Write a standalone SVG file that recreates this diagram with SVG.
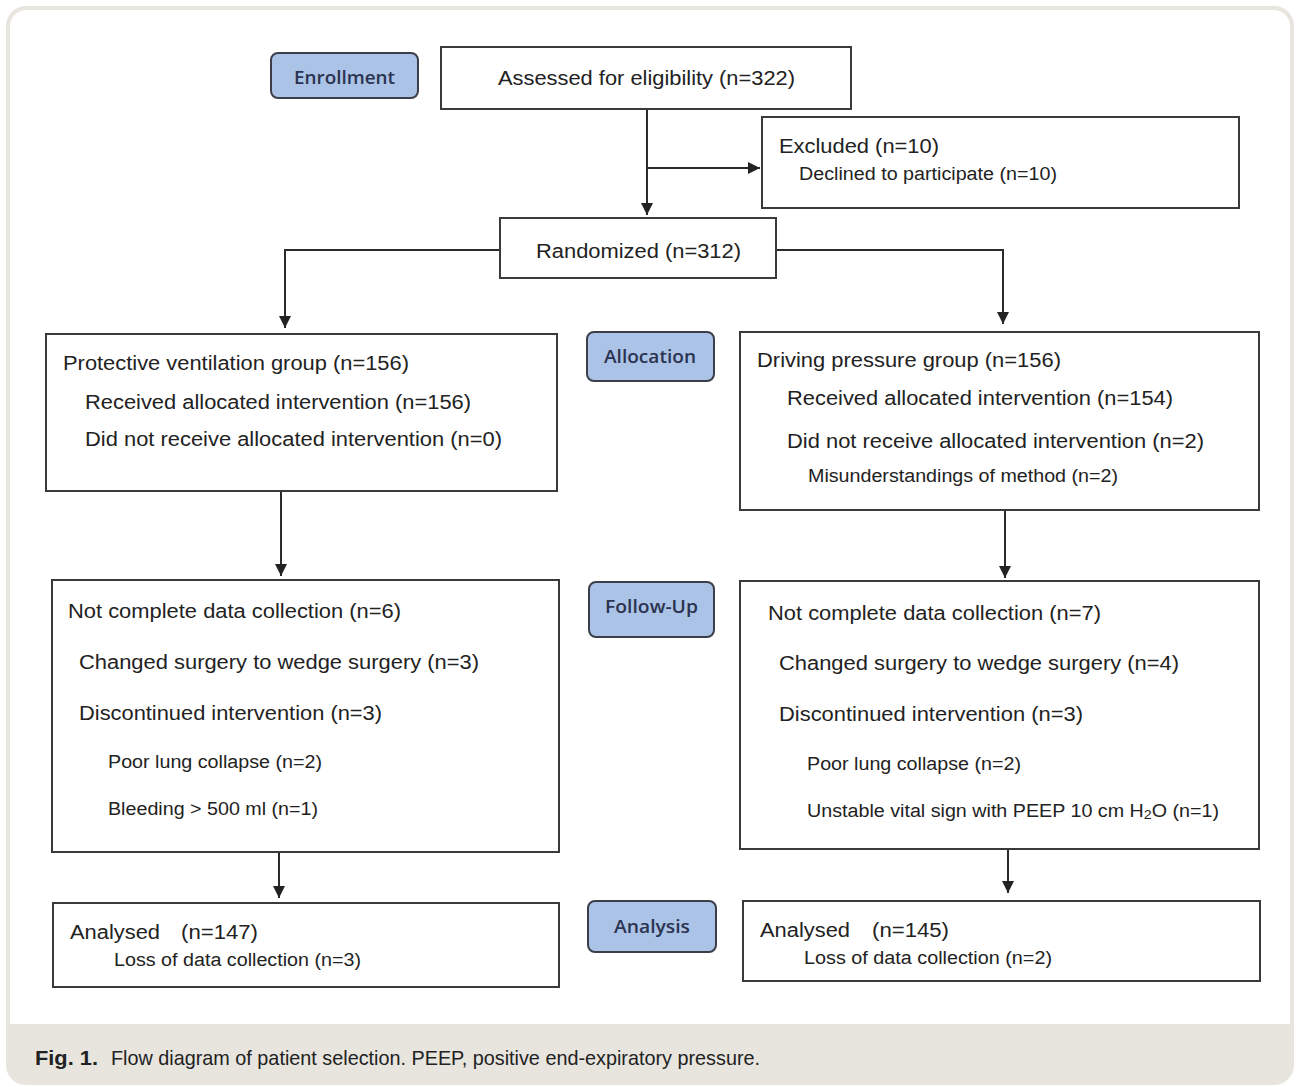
<svg xmlns="http://www.w3.org/2000/svg" width="1298" height="1087" viewBox="0 0 1298 1087">
<defs>
<marker id="arr" viewBox="0 0 10 10" refX="10" refY="5" markerWidth="12" markerHeight="12" markerUnits="userSpaceOnUse" orient="auto">
<path d="M0,0 L10,5 L0,10 z" fill="#222"/>
</marker>
<clipPath id="frame"><rect x="8" y="8" width="1284" height="1075" rx="18"/></clipPath>
</defs>
<style>
.box{fill:#fff;stroke:#3a3a3a;stroke-width:2}
.lbl{fill:#aac3e6;stroke:#3c3f4a;stroke-width:2}
.lt{font-family:"Open Sans","Noto Sans",sans-serif;font-size:18px;font-weight:600;fill:#2b3350}
.t{font-family:"Liberation Sans",Arial,sans-serif;font-size:20px;fill:#222}
.s{font-family:"Liberation Sans",Arial,sans-serif;font-size:18px;fill:#222}
.c{fill:none;stroke:#2a2a2a;stroke-width:2}
.cap{font-family:"Liberation Sans",Arial,sans-serif;font-size:21px;fill:#222}
</style>
<rect width="1298" height="1087" fill="#fff"/>
<g clip-path="url(#frame)">
<rect x="8" y="8" width="1284" height="1075" fill="#fff"/>
<rect x="8" y="1024" width="1284" height="60" fill="#e8e5df"/>
</g>
<rect x="8" y="8" width="1284" height="1075" rx="18" fill="none" stroke="#e8e5df" stroke-width="4"/>

<g id="connectors">
<line class="c" x1="647" y1="109" x2="647" y2="215" marker-end="url(#arr)"/>
<line class="c" x1="647" y1="168" x2="760" y2="168" marker-end="url(#arr)"/>
<polyline class="c" points="500,250 285,250 285,328" marker-end="url(#arr)"/>
<polyline class="c" points="776,250 1003,250 1003,324" marker-end="url(#arr)"/>
<line class="c" x1="281" y1="491" x2="281" y2="576" marker-end="url(#arr)"/>
<line class="c" x1="1005" y1="510" x2="1005" y2="578" marker-end="url(#arr)"/>
<line class="c" x1="279" y1="852" x2="279" y2="898" marker-end="url(#arr)"/>
<line class="c" x1="1008" y1="849" x2="1008" y2="893" marker-end="url(#arr)"/>
</g>

<g id="enrollment"><rect class="lbl" x="271" y="53" width="147" height="45" rx="7"/><text class="lt" x="294" y="84" textLength="101" lengthAdjust="spacingAndGlyphs">Enrollment</text></g>
<g id="assessed"><rect class="box" x="441" y="47" width="410" height="62"/><text class="t" x="498" y="85" textLength="297" lengthAdjust="spacingAndGlyphs">Assessed for eligibility (n=322)</text></g>
<g id="excluded"><rect class="box" x="762" y="117" width="477" height="91"/>
<text class="t" x="779" y="153" textLength="160" lengthAdjust="spacingAndGlyphs">Excluded (n=10)</text>
<text class="s" x="799" y="180" textLength="258" lengthAdjust="spacingAndGlyphs">Declined to participate (n=10)</text></g>
<g id="randomized"><rect class="box" x="500" y="218" width="276" height="60"/><text class="t" x="536" y="258" textLength="205" lengthAdjust="spacingAndGlyphs">Randomized (n=312)</text></g>

<g id="allocation"><rect class="lbl" x="587" y="332" width="127" height="49" rx="7"/><text class="lt" x="604" y="363" textLength="92" lengthAdjust="spacingAndGlyphs">Allocation</text></g>
<g id="protective"><rect class="box" x="46" y="334" width="511" height="157"/>
<text class="t" x="63" y="370" textLength="346" lengthAdjust="spacingAndGlyphs">Protective ventilation group (n=156)</text>
<text class="t" x="85" y="409" textLength="386" lengthAdjust="spacingAndGlyphs">Received allocated intervention (n=156)</text>
<text class="t" x="85" y="446" textLength="417" lengthAdjust="spacingAndGlyphs">Did not receive allocated intervention (n=0)</text></g>
<g id="driving"><rect class="box" x="740" y="332" width="519" height="178"/>
<text class="t" x="757" y="367" textLength="304" lengthAdjust="spacingAndGlyphs">Driving pressure group (n=156)</text>
<text class="t" x="787" y="405" textLength="386" lengthAdjust="spacingAndGlyphs">Received allocated intervention (n=154)</text>
<text class="t" x="787" y="448" textLength="417" lengthAdjust="spacingAndGlyphs">Did not receive allocated intervention (n=2)</text>
<text class="s" x="808" y="482" textLength="310" lengthAdjust="spacingAndGlyphs">Misunderstandings of method (n=2)</text></g>

<g id="followup"><rect class="lbl" x="589" y="582" width="125" height="55" rx="7"/><text class="lt" x="605" y="613" textLength="93" lengthAdjust="spacingAndGlyphs">Follow-Up</text></g>
<g id="follow-left"><rect class="box" x="52" y="580" width="507" height="272"/>
<text class="t" x="68" y="618" textLength="333" lengthAdjust="spacingAndGlyphs">Not complete data collection (n=6)</text>
<text class="t" x="79" y="669" textLength="400" lengthAdjust="spacingAndGlyphs">Changed surgery to wedge surgery (n=3)</text>
<text class="t" x="79" y="720" textLength="303" lengthAdjust="spacingAndGlyphs">Discontinued intervention (n=3)</text>
<text class="s" x="108" y="768" textLength="214" lengthAdjust="spacingAndGlyphs">Poor lung collapse (n=2)</text>
<text class="s" x="108" y="815" textLength="210" lengthAdjust="spacingAndGlyphs">Bleeding &gt; 500 ml (n=1)</text></g>
<g id="follow-right"><rect class="box" x="740" y="581" width="519" height="268"/>
<text class="t" x="768" y="620" textLength="333" lengthAdjust="spacingAndGlyphs">Not complete data collection (n=7)</text>
<text class="t" x="779" y="670" textLength="400" lengthAdjust="spacingAndGlyphs">Changed surgery to wedge surgery (n=4)</text>
<text class="t" x="779" y="721" textLength="304" lengthAdjust="spacingAndGlyphs">Discontinued intervention (n=3)</text>
<text class="s" x="807" y="770" textLength="214" lengthAdjust="spacingAndGlyphs">Poor lung collapse (n=2)</text>
<text class="s" x="807" y="817" font-size="19.5" textLength="412" lengthAdjust="spacingAndGlyphs">Unstable vital sign with PEEP 10 cm H<tspan font-size="13" dy="2">2</tspan><tspan dy="-2">O (n=1)</tspan></text></g>

<g id="analysis"><rect class="lbl" x="588" y="901" width="128" height="51" rx="7"/><text class="lt" x="614" y="933" textLength="76" lengthAdjust="spacingAndGlyphs">Analysis</text></g>
<g id="analysed-left"><rect class="box" x="53" y="903" width="506" height="84"/>
<text class="t" x="70" y="939" textLength="90" lengthAdjust="spacingAndGlyphs">Analysed</text>
<text class="t" x="181" y="939" textLength="77" lengthAdjust="spacingAndGlyphs">(n=147)</text>
<text class="s" x="114" y="966" textLength="247" lengthAdjust="spacingAndGlyphs">Loss of data collection (n=3)</text></g>
<g id="analysed-right"><rect class="box" x="743" y="901" width="517" height="80"/>
<text class="t" x="760" y="937" textLength="90" lengthAdjust="spacingAndGlyphs">Analysed</text>
<text class="t" x="872" y="937" textLength="77" lengthAdjust="spacingAndGlyphs">(n=145)</text>
<text class="s" x="804" y="964" textLength="248" lengthAdjust="spacingAndGlyphs">Loss of data collection (n=2)</text></g>

<g id="caption">
<text class="cap" x="35" y="1065" font-weight="bold" textLength="63" lengthAdjust="spacingAndGlyphs">Fig. 1.</text>
<text class="cap" x="111" y="1065" textLength="649" lengthAdjust="spacingAndGlyphs">Flow diagram of patient selection. PEEP, positive end-expiratory pressure.</text>
</g>
</svg>
